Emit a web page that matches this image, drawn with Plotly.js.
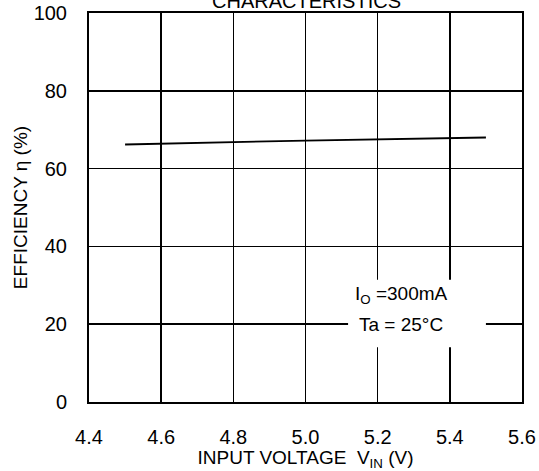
<!DOCTYPE html>
<html>
<head>
<meta charset="utf-8">
<script src="https://cdn.plot.ly/plotly-3.0.1.min.js"></script>
<style>html,body{margin:0;padding:0;background:#fff;}#chart{width:539px;height:471px;}</style>
</head>
<body>
<div id="chart"></div>
<script>
// Data
var inputVoltage = [4.5, 5.0, 5.5];
var efficiency = [66.2, 67.2, 68.0];
var xTicks = [4.4, 4.6, 4.8, 5.0, 5.2, 5.4, 5.6];
var yTicks = [0, 20, 40, 60, 80, 100];
var titleText = 'CHARACTERISTICS';
var xTitle = 'INPUT VOLTAGE  V<sub>IN</sub> (V)';
var yTitle = 'EFFICIENCY \u03b7 (%)';
var noteLines = ['I<sub>O</sub> =300mA', 'Ta = 25\u00b0C'];

var font = 'Liberation Sans, Arial, sans-serif';

var trace = {
  x: inputVoltage,
  y: efficiency,
  type: 'scatter',
  mode: 'lines',
  line: {color: '#000', width: 1.8},
  hoverinfo: 'skip'
};

var layout = {
  width: 539,
  height: 471,
  margin: {l: 88.5, r: 17, t: 13, b: 69, pad: 0},
  paper_bgcolor: '#fff',
  plot_bgcolor: '#fff',
  font: {family: font, color: '#000', size: 20},
  showlegend: false,
  title: {
    text: titleText,
    font: {family: font, size: 20, color: '#000'},
    x: 0.5687, xanchor: 'center', xref: 'container',
    y: 0.998, yanchor: 'middle', yref: 'container'
  },
  xaxis: {
    range: [4.4, 5.6],
    tickvals: xTicks,
    ticktext: xTicks.map(function(v){return v.toFixed(1);}),
    ticks: 'outside', ticklen: 16, tickcolor: 'rgba(0,0,0,0)',
    showgrid: true, gridcolor: '#000', gridwidth: 1.5,
    showline: true, linecolor: '#000', linewidth: 2, mirror: true,
    zeroline: false,
    tickfont: {family: font, size: 20, color: '#000'},
    title: {text: xTitle, font: {family: font, size: 19, color: '#000'}, standoff: 2}
  },
  yaxis: {
    range: [0, 100],
    tickvals: yTicks,
    ticks: 'outside', ticklen: 16, tickcolor: 'rgba(0,0,0,0)',
    showgrid: true, gridcolor: '#000', gridwidth: 1.5,
    showline: true, linecolor: '#000', linewidth: 2, mirror: true,
    zeroline: false,
    tickfont: {family: font, size: 20, color: '#000'},
    title: {text: yTitle, font: {family: font, size: 19, color: '#000'}, standoff: 1}
  },
  shapes: [{
    type: 'rect', xref: 'x', yref: 'y', layer: 'between',
    x0: 5.118, x1: 5.50, y0: 14.1, y1: 31.4,
    fillcolor: '#fff', line: {width: 0}
  }],
  annotations: [
    {xref: 'x', yref: 'y', x: 5.266, y: 27.6, text: noteLines[0], showarrow: false,
     font: {family: font, size: 19, color: '#000'}, xanchor: 'center', yanchor: 'middle'},
    {xref: 'x', yref: 'y', x: 5.266, y: 19.8, text: noteLines[1], showarrow: false,
     font: {family: font, size: 19, color: '#000'}, xanchor: 'center', yanchor: 'middle'}
  ]
};

Plotly.newPlot('chart', [trace], layout, {staticPlot: true, displayModeBar: false});
</script>
</body>
</html>
